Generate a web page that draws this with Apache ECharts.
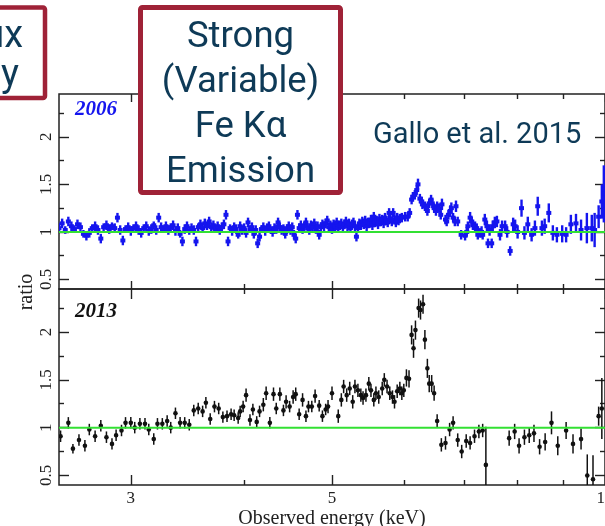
<!DOCTYPE html>
<html>
<head>
<meta charset="utf-8">
<script src="https://cdn.jsdelivr.net/npm/echarts@6/dist/echarts.min.js"></script>
<style>
  html, body { margin: 0; padding: 0; background: #fff; }
  #chart { width: 605px; height: 526px; }
</style>
</head>
<body>
<div id="chart"></div>
<script>
// Data/model ratio spectra, 2006 and 2013 epochs (energies in keV)
const energy2006 = [
  2.50,2.52,2.54,2.56,2.58,2.60,2.62,2.64,2.66,2.68,
  2.70,2.72,2.74,2.76,2.78,2.80,2.82,2.84,2.86,2.88,
  2.90,2.92,2.94,2.96,2.98,3.00,3.02,3.04,3.06,3.08,
  3.10,3.12,3.14,3.16,3.18,3.20,3.22,3.24,3.26,3.28,
  3.30,3.32,3.34,3.36,3.38,3.40,3.42,3.44,3.46,3.48,
  3.50,3.52,3.54,3.56,3.58,3.60,3.62,3.64,3.66,3.68,
  3.70,3.72,3.74,3.76,3.78,3.80,3.82,3.84,3.86,3.88,
  3.90,3.92,3.94,3.96,3.98,4.00,4.02,4.04,4.06,4.08,
  4.10,4.12,4.14,4.16,4.18,4.20,4.22,4.24,4.26,4.28,
  4.30,4.32,4.34,4.36,4.38,4.40,4.42,4.44,4.46,4.48,
  4.50,4.52,4.54,4.56,4.58,4.60,4.62,4.64,4.66,4.68,
  4.70,4.72,4.74,4.76,4.78,4.80,4.82,4.84,4.86,4.88,
  4.90,4.92,4.94,4.96,4.98,5.00,5.02,5.04,5.06,5.08,
  5.10,5.12,5.14,5.16,5.18,5.20,5.22,5.24,5.26,5.28,
  5.30,5.32,5.34,5.36,5.38,5.40,5.42,5.44,5.46,5.48,
  5.50,5.52,5.54,5.56,5.58,5.60,5.62,5.64,5.66,5.68,
  5.70,5.72,5.74,5.76,5.78,5.80,5.82,5.84,5.86,5.88,
  5.90,5.92,5.94,
  5.97,6.02,6.06,6.09,6.12,6.14,6.17,6.20,6.22,6.25,
  6.28,6.29,6.33,6.36,6.37,6.40,6.43,6.45,6.48,6.51,
  6.53,6.56,6.59,6.61,6.67,6.69,6.72,6.75,6.77,6.80,
  6.83,6.85,6.88,6.94,7.01,7.04,7.06,7.10,7.13,7.15,
  7.19,7.22,7.24,7.28,7.31,7.33,7.37,7.41,7.43,7.46,
  7.50,7.52,7.56,7.60,7.66,7.70,7.76,7.80,7.86,7.92,
  7.96,8.01,8.09,8.15,8.22,8.30,8.37,8.43,8.52,8.58,
  8.67,8.76,8.85,8.97,9.06,9.17,9.29,9.41,9.55,9.67,
  9.74,9.84,9.92,9.97
];
const ratio2006 = [
  1.04,1.09,1.02,1.11,1.06,1.03,1.08,1.05,0.98,0.96,
  0.99,1.04,1.06,1.02,0.93,1.05,1.07,1.03,1.06,1.04,
  1.15,1.02,0.91,1.03,1.05,1.01,1.04,1.06,1.02,0.99,
  1.04,1.06,1.01,1.03,1.07,1.02,1.15,1.05,1.03,1.06,
  1.02,1.05,1.07,1.01,1.04,0.98,0.90,1.03,1.06,1.01,
  1.04,1.02,0.90,1.05,1.08,1.04,1.09,1.06,1.11,1.05,
  1.07,1.03,1.06,1.02,1.05,1.08,1.18,0.90,1.04,1.01,
  1.05,1.03,0.97,1.06,1.02,1.04,0.99,1.10,1.03,1.05,
  0.98,1.02,0.88,0.95,1.03,1.05,1.01,1.04,1.06,1.02,
  1.00,1.04,1.03,1.10,1.05,1.02,1.04,0.98,1.03,1.06,
  1.02,1.05,0.97,0.93,1.18,1.04,1.07,1.03,1.06,1.10,
  1.04,1.02,1.07,1.05,1.09,1.03,1.06,0.97,1.05,1.08,
  1.06,1.09,1.12,1.05,1.07,1.03,1.08,1.06,1.10,1.04,
  1.07,1.09,1.05,1.08,1.11,1.06,1.09,1.04,1.08,1.10,
  1.06,0.95,1.04,1.09,1.07,1.11,1.08,1.12,1.06,1.10,
  1.09,1.13,1.07,1.16,1.10,1.12,1.08,1.14,1.11,1.13,
  1.09,1.15,1.12,1.10,1.20,1.14,1.11,1.20,1.13,1.10,
  1.15,1.12,1.14,
  1.15,1.16,1.16,1.20,1.34,1.37,1.39,1.44,1.50,1.35,
  1.32,1.29,1.27,1.25,1.22,1.30,1.34,1.30,1.25,1.22,
  1.27,1.25,1.18,1.29,1.13,1.11,1.18,1.22,1.25,1.15,
  1.11,1.27,1.11,0.97,0.96,1.00,1.06,1.15,1.11,1.07,
  1.06,1.04,0.97,0.99,1.00,0.97,1.13,1.06,0.88,1.02,
  0.88,1.06,1.10,1.11,0.97,1.06,1.06,1.00,0.80,1.08,
  1.06,1.00,1.25,0.99,1.08,0.97,1.04,1.27,1.04,1.06,
  1.20,0.99,0.97,0.98,0.97,1.08,1.09,1.02,1.04,1.04,
  1.02,1.16,1.32,1.40
];
const error2006 = [
  0.05,0.05,0.04,0.05,0.05,0.04,0.05,0.05,0.04,0.05,
  0.05,0.04,0.05,0.05,0.05,0.04,0.05,0.05,0.04,0.05,
  0.05,0.05,0.05,0.04,0.05,0.05,0.04,0.05,0.05,0.05,
  0.04,0.05,0.05,0.05,0.04,0.05,0.05,0.05,0.04,0.05,
  0.05,0.04,0.05,0.05,0.05,0.04,0.05,0.05,0.05,0.04,
  0.05,0.05,0.05,0.04,0.05,0.05,0.05,0.04,0.05,0.05,
  0.05,0.04,0.05,0.05,0.05,0.05,0.05,0.05,0.04,0.05,
  0.05,0.05,0.04,0.05,0.05,0.05,0.05,0.05,0.04,0.05,
  0.05,0.05,0.05,0.05,0.04,0.05,0.05,0.05,0.05,0.04,
  0.05,0.05,0.05,0.05,0.05,0.05,0.04,0.05,0.05,0.05,
  0.05,0.05,0.05,0.05,0.05,0.05,0.05,0.05,0.05,0.05,
  0.05,0.05,0.05,0.05,0.05,0.05,0.05,0.05,0.05,0.05,
  0.05,0.05,0.05,0.05,0.05,0.05,0.05,0.05,0.05,0.05,
  0.05,0.05,0.05,0.05,0.05,0.05,0.05,0.05,0.05,0.05,
  0.05,0.05,0.05,0.05,0.05,0.05,0.05,0.05,0.05,0.05,
  0.05,0.05,0.05,0.05,0.05,0.05,0.05,0.05,0.05,0.05,
  0.05,0.05,0.05,0.05,0.05,0.05,0.05,0.05,0.05,0.05,
  0.05,0.05,0.05,
  0.05,0.05,0.05,0.05,0.05,0.05,0.05,0.05,0.06,0.05,
  0.05,0.05,0.05,0.05,0.05,0.05,0.05,0.05,0.05,0.05,
  0.05,0.05,0.05,0.06,0.05,0.05,0.05,0.06,0.06,0.05,
  0.05,0.06,0.05,0.05,0.05,0.05,0.05,0.06,0.05,0.05,
  0.05,0.05,0.05,0.05,0.06,0.05,0.06,0.06,0.05,0.06,
  0.05,0.06,0.06,0.06,0.06,0.06,0.06,0.06,0.05,0.07,
  0.07,0.07,0.09,0.07,0.08,0.07,0.08,0.10,0.08,0.08,
  0.10,0.08,0.08,0.09,0.08,0.10,0.10,0.11,0.16,0.14,
  0.18,0.12,0.18,0.30
];

const energy2013 = [
  2.51,2.56,2.59,2.63,2.67,2.70,2.74,2.78,2.82,2.86,
  2.89,2.93,2.96,3.00,3.03,3.07,3.11,3.14,3.18,3.21,
  3.25,3.29,3.32,3.36,3.40,3.44,3.48,3.52,3.56,3.60,
  3.63,3.67,3.71,3.75,3.79,3.83,3.87,3.90,3.94,3.96,
  3.99,4.02,4.06,4.09,4.13,4.16,4.20,4.23,4.27,4.31,
  4.34,4.38,4.42,4.45,4.49,4.53,4.56,4.60,4.64,4.68,
  4.71,4.75,4.79,4.84,4.88,4.92,4.95,5.00,5.08,5.12,
  5.15,5.19,5.23,5.27,5.30,5.34,5.38,5.41,5.45,5.49,
  5.52,5.56,5.59,5.63,5.68,5.71,5.75,5.79,5.83,5.86,
  5.90,5.94,5.97,6.00,6.04,6.08,6.12,6.15,6.18,6.23,
  6.26,6.30,6.33,6.37,6.40,6.44,6.48,6.53,6.60,6.67,
  6.74,6.80,6.88,6.95,7.03,7.10,7.18,7.26,7.33,7.39,
  7.84,7.95,8.04,8.15,8.25,8.35,8.47,8.59,8.73,8.87,
  9.06,9.22,9.41,9.56,9.70,9.84,9.92
];
const ratio2013 = [
  0.91,1.05,0.78,0.87,0.81,0.98,0.91,1.02,0.90,0.83,
  0.92,0.97,1.05,1.05,1.00,1.04,1.04,0.98,0.88,1.04,
  1.04,1.07,1.00,1.15,1.05,1.05,1.03,1.18,1.20,1.17,
  1.26,1.09,1.22,1.20,1.11,1.12,1.14,1.13,1.10,1.17,
  1.22,1.34,1.08,1.19,1.06,1.17,1.24,1.36,1.05,1.35,
  1.20,1.35,1.18,1.27,1.22,1.32,1.35,1.14,1.29,1.12,
  1.22,1.22,1.33,1.23,1.12,1.19,1.22,1.36,1.12,1.29,
  1.43,1.34,1.41,1.27,1.43,1.39,1.34,1.31,1.34,1.46,
  1.39,1.29,1.36,1.32,1.41,1.50,1.43,1.36,1.32,1.27,
  1.38,1.41,1.36,1.39,1.52,1.51,1.97,1.83,2.02,2.25,
  2.23,2.29,1.92,1.62,1.46,1.46,1.36,1.07,0.82,0.84,
  0.98,1.05,0.87,0.75,0.86,0.84,0.91,0.96,0.97,0.61,
  0.89,0.96,0.81,0.90,0.92,0.94,0.80,0.85,1.05,0.81,
  0.97,0.83,0.88,0.50,0.46,1.12,1.20
];
const error2013 = [
  0.06,0.06,0.05,0.06,0.06,0.06,0.06,0.06,0.06,0.06,
  0.06,0.06,0.06,0.06,0.06,0.06,0.06,0.06,0.06,0.06,
  0.06,0.06,0.06,0.06,0.06,0.06,0.06,0.06,0.06,0.06,
  0.06,0.06,0.06,0.06,0.06,0.06,0.06,0.06,0.06,0.06,
  0.06,0.07,0.06,0.06,0.06,0.06,0.07,0.07,0.06,0.07,
  0.06,0.07,0.06,0.07,0.06,0.07,0.07,0.06,0.07,0.06,
  0.06,0.06,0.07,0.06,0.06,0.06,0.07,0.07,0.07,0.07,
  0.07,0.07,0.07,0.07,0.07,0.07,0.07,0.07,0.07,0.07,
  0.07,0.07,0.07,0.07,0.07,0.07,0.07,0.07,0.07,0.07,
  0.07,0.07,0.07,0.07,0.09,0.09,0.10,0.10,0.10,0.10,
  0.10,0.10,0.10,0.10,0.09,0.09,0.08,0.07,0.07,0.07,
  0.07,0.07,0.07,0.07,0.07,0.07,0.07,0.07,0.07,0.40,
  0.08,0.08,0.08,0.08,0.08,0.09,0.08,0.09,0.12,0.10,
  0.09,0.10,0.11,0.22,0.25,0.10,0.32
];

const energyRange = [2.5, 10];
const ratioRange = [0.4, 2.45];
const majorEnergyTicks = [3, 5, 10];
const minorEnergyTicks = [4, 6, 7, 8, 9];
const majorRatioTicks = [0.5, 1, 1.5, 2];
const minorRatioTicks = [0.75, 1.25, 1.75, 2.25];
const unityRatio = 1;

const lg = Math.log10;
const INK = '#222';
const SERIF = '"Liberation Serif", "Times New Roman", serif';
const BLUE = '#1515ee';
const NAVY = '#0e3a57';
const MAROON = '#9f2237';

function toPoints(energy, ratio, err) {
  return energy.map((e, i) => [lg(e), ratio[i], err[i]]);
}

function xAxisDef(grid, pos, ticks, len, withLabels) {
  const ax = {
    type: 'value', gridIndex: grid, position: pos,
    min: lg(energyRange[0]), max: lg(energyRange[1]),
    axisLine: { show: false }, splitLine: { show: false },
    axisTick: { show: true, inside: true, length: len, customValues: ticks.map(lg),
                lineStyle: { color: INK, width: 1.4 } },
    axisLabel: { show: false }
  };
  if (withLabels) {
    ax.axisLabel = {
      show: true, customValues: ticks.map(lg), margin: 5,
      formatter: v => String(Math.round(Math.pow(10, v))),
      fontFamily: SERIF, fontSize: 17, color: INK
    };
    ax.name = 'Observed energy (keV)';
    ax.nameLocation = 'middle';
    ax.nameGap = 24;
    ax.nameTextStyle = { fontFamily: SERIF, fontSize: 20, color: INK };
  }
  return ax;
}

function yAxisDef(grid, pos, ticks, len, withLabels) {
  const ax = {
    type: 'value', gridIndex: grid, position: pos,
    min: ratioRange[0], max: ratioRange[1],
    axisLine: { show: false }, splitLine: { show: false },
    axisTick: { show: true, inside: true, length: len, customValues: ticks,
                lineStyle: { color: INK, width: 1.4 } },
    axisLabel: { show: false }
  };
  if (withLabels) {
    ax.axisLabel = {
      show: true, customValues: ticks, rotate: 90, margin: 4,
      fontFamily: SERIF, fontSize: 17, color: INK
    };
  }
  return ax;
}

function errorBarRenderer(color, lineW, marker) {
  return function (params, api) {
    const x = api.value(0), y = api.value(1), e = api.value(2);
    const c = api.coord([x, y]);
    const hi = api.coord([x, y + e]);
    const lo = api.coord([x, y - e]);
    const mark = marker === 'square'
      ? { type: 'rect', shape: { x: c[0] - 2.5, y: c[1] - 2, width: 5, height: 4 }, style: { fill: color } }
      : { type: 'circle', shape: { cx: c[0], cy: c[1], r: 2.3 }, style: { fill: color } };
    return {
      type: 'group',
      children: [
        { type: 'line', shape: { x1: c[0], y1: hi[1], x2: c[0], y2: lo[1] },
          style: { stroke: color, lineWidth: lineW } },
        mark
      ]
    };
  };
}

function unityLine(xi, yi) {
  return {
    type: 'line', xAxisIndex: xi, yAxisIndex: yi, silent: true, z: 5,
    symbol: 'none',
    data: [[lg(energyRange[0]), unityRatio], [lg(energyRange[1]), unityRatio]],
    lineStyle: { color: '#33e033', width: 2 }
  };
}

const chart = echarts.init(document.getElementById('chart'), null, { renderer: 'canvas' });

const gridStyle = { show: true, borderColor: INK, borderWidth: 1.5, backgroundColor: 'transparent',
                    containLabel: false, outerBoundsMode: 'none' };

const option = {
  animation: false,
  backgroundColor: '#fff',
  grid: [
    Object.assign({ left: 59, right: 0, top: 94, height: 195 }, gridStyle),
    Object.assign({ left: 59, right: 0, top: 289, height: 196 }, gridStyle)
  ],
  xAxis: [
    xAxisDef(0, 'bottom', majorEnergyTicks, 8, false),
    xAxisDef(0, 'bottom', minorEnergyTicks, 5, false),
    xAxisDef(0, 'top', majorEnergyTicks, 8, false),
    xAxisDef(0, 'top', minorEnergyTicks, 5, false),
    xAxisDef(1, 'bottom', majorEnergyTicks, 10, true),
    xAxisDef(1, 'bottom', minorEnergyTicks, 5, false),
    xAxisDef(1, 'top', majorEnergyTicks, 10, false),
    xAxisDef(1, 'top', minorEnergyTicks, 5, false)
  ],
  yAxis: [
    yAxisDef(0, 'left', majorRatioTicks, 10, true),
    yAxisDef(0, 'left', minorRatioTicks, 5, false),
    yAxisDef(0, 'right', majorRatioTicks, 10, false),
    yAxisDef(0, 'right', minorRatioTicks, 5, false),
    yAxisDef(1, 'left', majorRatioTicks, 10, true),
    yAxisDef(1, 'left', minorRatioTicks, 5, false),
    yAxisDef(1, 'right', majorRatioTicks, 10, false),
    yAxisDef(1, 'right', minorRatioTicks, 5, false)
  ],
  series: [
    {
      type: 'custom', name: '2006', xAxisIndex: 0, yAxisIndex: 0, clip: true, z: 2,
      dimensions: ['logE', 'ratio', 'err'], encode: { x: 0, y: 1 },
      renderItem: errorBarRenderer(BLUE, 2.4, 'square'),
      data: toPoints(energy2006, ratio2006, error2006)
    },
    unityLine(0, 0),
    {
      type: 'custom', name: '2013', xAxisIndex: 4, yAxisIndex: 4, clip: true, z: 2,
      dimensions: ['logE', 'ratio', 'err'], encode: { x: 0, y: 1 },
      renderItem: errorBarRenderer('#111', 1.5, 'circle'),
      data: toPoints(energy2013, ratio2013, error2013)
    },
    unityLine(4, 4)
  ],
  graphic: [
    { type: 'text', x: 75, y: 110, z: 20,
      style: { text: '2006', font: 'italic bold 21px ' + SERIF, fill: BLUE, verticalAlign: 'middle' } },
    { type: 'text', x: 75, y: 312, z: 20,
      style: { text: '2013', font: 'italic bold 21px ' + SERIF, fill: '#111', verticalAlign: 'middle' } },
    { type: 'text', x: 27, y: 292, rotation: Math.PI / 2, z: 20,
      style: { text: 'ratio', font: '20px ' + SERIF, fill: INK, align: 'center', verticalAlign: 'middle' } },
    { type: 'text', x: 373, y: 136, z: 20,
      style: { text: 'Gallo et al. 2015', font: '29px Roboto', fill: NAVY, verticalAlign: 'middle' } },
    // left callout box (extends past the left edge)
    { type: 'rect', z: 30,
      shape: { x: -20, y: 7.5, width: 65, height: 90.5, r: 2 },
      style: { fill: '#fff', stroke: MAROON, lineWidth: 4.5 } },
    { type: 'text', x: 23, y: 37, z: 31,
      style: { text: 'ux', font: '38px Roboto', fill: NAVY, align: 'right', verticalAlign: 'middle' } },
    { type: 'text', x: 19, y: 76, z: 31,
      style: { text: 'y', font: '38px Roboto', fill: NAVY, align: 'right', verticalAlign: 'middle' } },
    // Fe K alpha callout box
    { type: 'rect', z: 30,
      shape: { x: 140.5, y: 7.5, width: 200, height: 185, r: 2 },
      style: { fill: '#fff', stroke: MAROON, lineWidth: 5 } },
    { type: 'text', x: 240.5, y: 105, z: 31,
      style: { text: 'Strong\n(Variable)\nFe K\u03b1\nEmission', font: '36.5px Roboto', lineHeight: 45,
               fill: NAVY, align: 'center', verticalAlign: 'middle' } }
  ]
};

chart.setOption(option);
</script>
</body>
</html>
